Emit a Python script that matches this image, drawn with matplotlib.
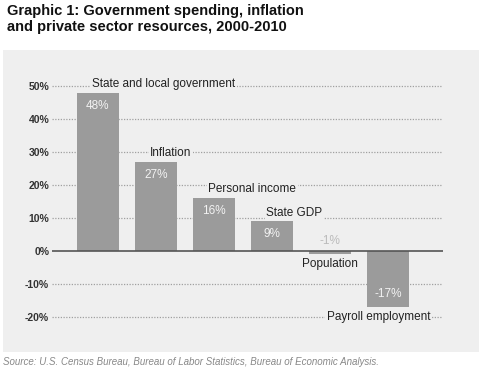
import matplotlib
matplotlib.use('Agg')
import matplotlib.pyplot as plt
from matplotlib.patches import Rectangle

#### Data
categories = ['State and local government', 'Inflation', 'Personal income',
              'State GDP', 'Population', 'Payroll employment']
values     = [48, 27, 16, 9, -1, -17]
yticks     = [-20, -10, 0, 10, 20, 30, 40, 50]

#### Style
panel_color = '#efefef'
bar_color   = '#9b9b9b'
plt.rcParams['font.family'] = ['Liberation Sans', 'DejaVu Sans']

fig = plt.figure(figsize=(4.8, 3.71), dpi=100)
fig.patch.set_facecolor('white')

# gray panel behind the chart
fig.patches.append(Rectangle((3/480, 1 - 352/371), 476/480, 302/371,
                             transform=fig.transFigure, facecolor=panel_color,
                             edgecolor='none', zorder=-1))

ax = fig.add_axes([52/480, 37.5/371, 391/480, 264/371])
ax.set_facecolor('none')
x = list(range(len(values)))
ax.bar(x, values, width=0.72, color=bar_color, zorder=2)
ax.set_xlim(-0.79, 5.95)
ax.set_ylim(-25, 55)

for y in yticks:
    if y == 0:
        ax.axhline(0, color='#555555', lw=1.2, zorder=3)
    else:
        ax.axhline(y, color='#a0a0a0', lw=0.9, ls=(0, (1, 1.2)), zorder=1)

ax.set_yticks(yticks)
ax.set_yticklabels([f'{v}%' for v in yticks], fontsize=7.5,
                   fontweight='bold', color='#333333')
ax.tick_params(axis='y', length=0, pad=2)
ax.set_xticks([])
for s in ax.spines.values():
    s.set_visible(False)

#### Labels
for i, (cat, v) in enumerate(zip(categories, values)):
    box = dict(facecolor=panel_color, edgecolor='none', pad=1)
    if v > 0:
        ax.annotate(cat, (i - 0.36, v), xytext=(11, 2), textcoords='offset points',
                    ha='left', va='bottom', fontsize=8.5, color='#222222',
                    bbox=box, zorder=4)
        ax.annotate(f'{v}%', (i, v), xytext=(0, -5), textcoords='offset points',
                    ha='center', va='top', fontsize=8.5, color='#f2f2f2', zorder=4)
    else:
        off = -5 if i == 4 else -29
        ax.annotate(cat, (i - 0.36, v), xytext=(off, -3), textcoords='offset points',
                    ha='left', va='top', fontsize=8.5, color='#222222',
                    bbox=box, zorder=4)
        if v < -5:
            ax.annotate(f'{v}%', (i, v), xytext=(0, 5), textcoords='offset points',
                        ha='center', va='bottom', fontsize=8.5, color='#f2f2f2', zorder=4)
        else:
            ax.annotate(f'{v}%', (i, 0), xytext=(0, 3), textcoords='offset points',
                        ha='center', va='bottom', fontsize=8.5, color='#bbbbbb', zorder=4)

#### Title and source
fig.text(7/480, 1 - 4/371,
         'Graphic 1: Government spending, inflation\nand private sector resources, 2000-2010',
         ha='left', va='top', fontsize=10.5, fontweight='bold', color='#111111',
         linespacing=1.15)
fig.text(3/480, 1 - 362/371,
         'Source: U.S. Census Bureau, Bureau of Labor Statistics, Bureau of Economic Analysis.',
         ha='left', va='center', fontsize=7.0, style='italic', color='#888888')

fig.savefig('out.png', dpi=100)
